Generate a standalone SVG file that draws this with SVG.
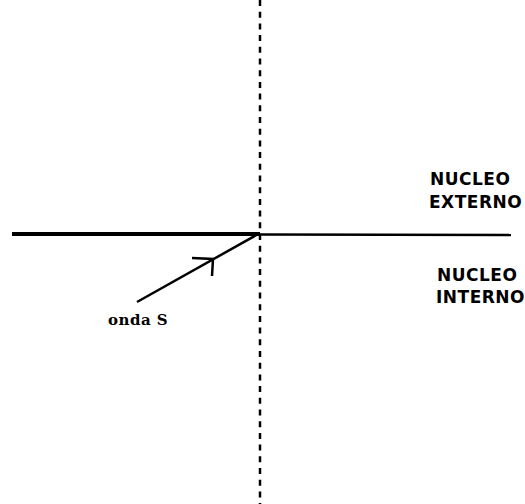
<svg xmlns="http://www.w3.org/2000/svg" width="525" height="504" viewBox="0 0 525 504">
<style>
.lbl{font-family:"DejaVu Sans",sans-serif;font-weight:bold;font-size:17px;letter-spacing:0.5px;fill:#000}
.wave{font-family:"DejaVu Serif","Liberation Serif",serif;font-weight:bold;font-size:15px;letter-spacing:0.5px;fill:#000}
.ln{stroke:#000;fill:none}
</style>
<rect width="525" height="504" fill="#fff"/>
<g id="connectors">
<line class="ln" x1="260" y1="0" x2="260" y2="504" stroke-width="2.5" stroke-dasharray="6,5.7"/>
<line class="ln" x1="12" y1="234" x2="260" y2="234" stroke-width="4"/>
<line class="ln" x1="260" y1="234.5" x2="511" y2="235" stroke-width="2.5"/>
<line class="ln" x1="137" y1="302" x2="260" y2="233" stroke-width="2.5"/>
<polyline class="ln" points="192,258 213,259 212,276" stroke-width="2.5"/>
</g>
<g id="wave-label"><text class="wave" x="108" y="325">onda S</text></g>
<g id="outer-core"><text class="lbl" x="430" y="185">NUCLEO</text><text class="lbl" x="429" y="208">EXTERNO</text></g>
<g id="inner-core"><text class="lbl" x="437" y="281">NUCLEO</text><text class="lbl" x="436" y="303">INTERNO</text></g>
</svg>
